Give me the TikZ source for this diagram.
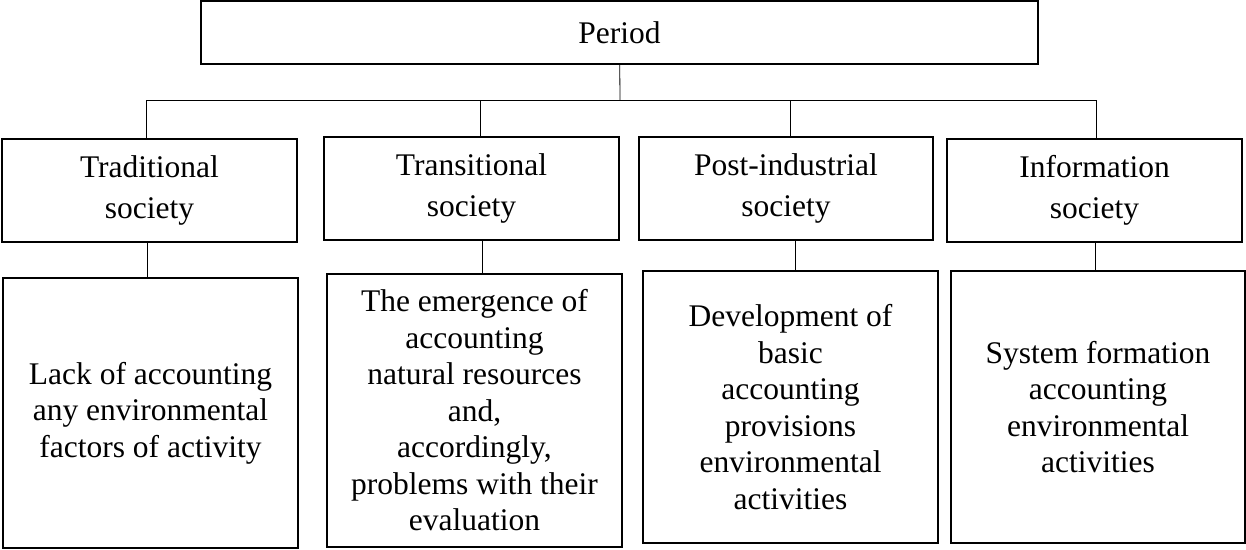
\documentclass[tikz,border=0pt]{standalone}
\usepackage{fontspec}
\setmainfont{Liberation Serif}
\usetikzlibrary{positioning}

\begin{document}
\begin{tikzpicture}[
    x=1pt, y=-1pt,
    box/.style={rectangle, draw, line width=1.2pt, inner sep=0pt, align=center,
        minimum width=295pt, font=\fontsize{31.5}{36.5}\selectfont},
    period/.style={box, minimum width=837pt, minimum height=63pt},
    society/.style={box, minimum height=103pt, font=\fontsize{31.5}{41}\selectfont},
    feature/.style={box},
    link/.style={line width=0.8pt}
]
\useasboundingbox (0,0) rectangle (1246,549);

% Top node
\node[period] (period) at (619.5, 32.5) {Period};

% Types of society
\node[society] (trad) at (149.5, 190.5) {Traditional\\society};
\node[society] (trans) at (471.5, 188.5) {Transitional\\society};
\node[society, minimum width=294pt] (post) at (786, 188.5) {Post-industrial\\society};
\node[society] (info) at (1094.5, 190.5) {Information\\society};

% Accounting in each period
\node[feature, minimum height=270pt] (lack) at (150.5, 413) {Lack of accounting\\any environmental\\factors of activity};
\node[feature, minimum height=273pt] (emerg) at (474.5, 410.5) {The emergence of\\accounting\\natural resources\\and,\\accordingly,\\problems with their\\evaluation};
\node[feature, minimum height=272pt] (devel) at (790.5, 407) {Development of\\basic\\accounting\\provisions\\environmental\\activities};
\node[feature, minimum height=272pt, minimum width=294pt] (sysf) at (1098, 407) {System formation\\accounting\\environmental\\activities};

% Tree lines
\coordinate (bus) at (620, 100);
\draw[link] (period) -- (bus);
\draw[link] ([xshift=-3]trad.north) -- ([xshift=-3]trad.north |- bus) -- ([xshift=1.5]info.north |- bus) -- ([xshift=1.5]info.north);
\draw[link] ([xshift=8.5]trans.north) -- ([xshift=8.5]trans.north |- bus);
\draw[link] ([xshift=4]post.north) -- ([xshift=4]post.north |- bus);

\draw[link] ([xshift=-2.5]trad.south) -- ([xshift=-2.5]trad.south |- lack.north);
\draw[link] ([xshift=10.5]trans.south) -- ([xshift=10.5]trans.south |- emerg.north);
\draw[link] ([xshift=9]post.south) -- ([xshift=9]post.south |- devel.north);
\draw[link] ([xshift=0.5]info.south) -- ([xshift=0.5]info.south |- sysf.north);

\end{tikzpicture}
\end{document}
